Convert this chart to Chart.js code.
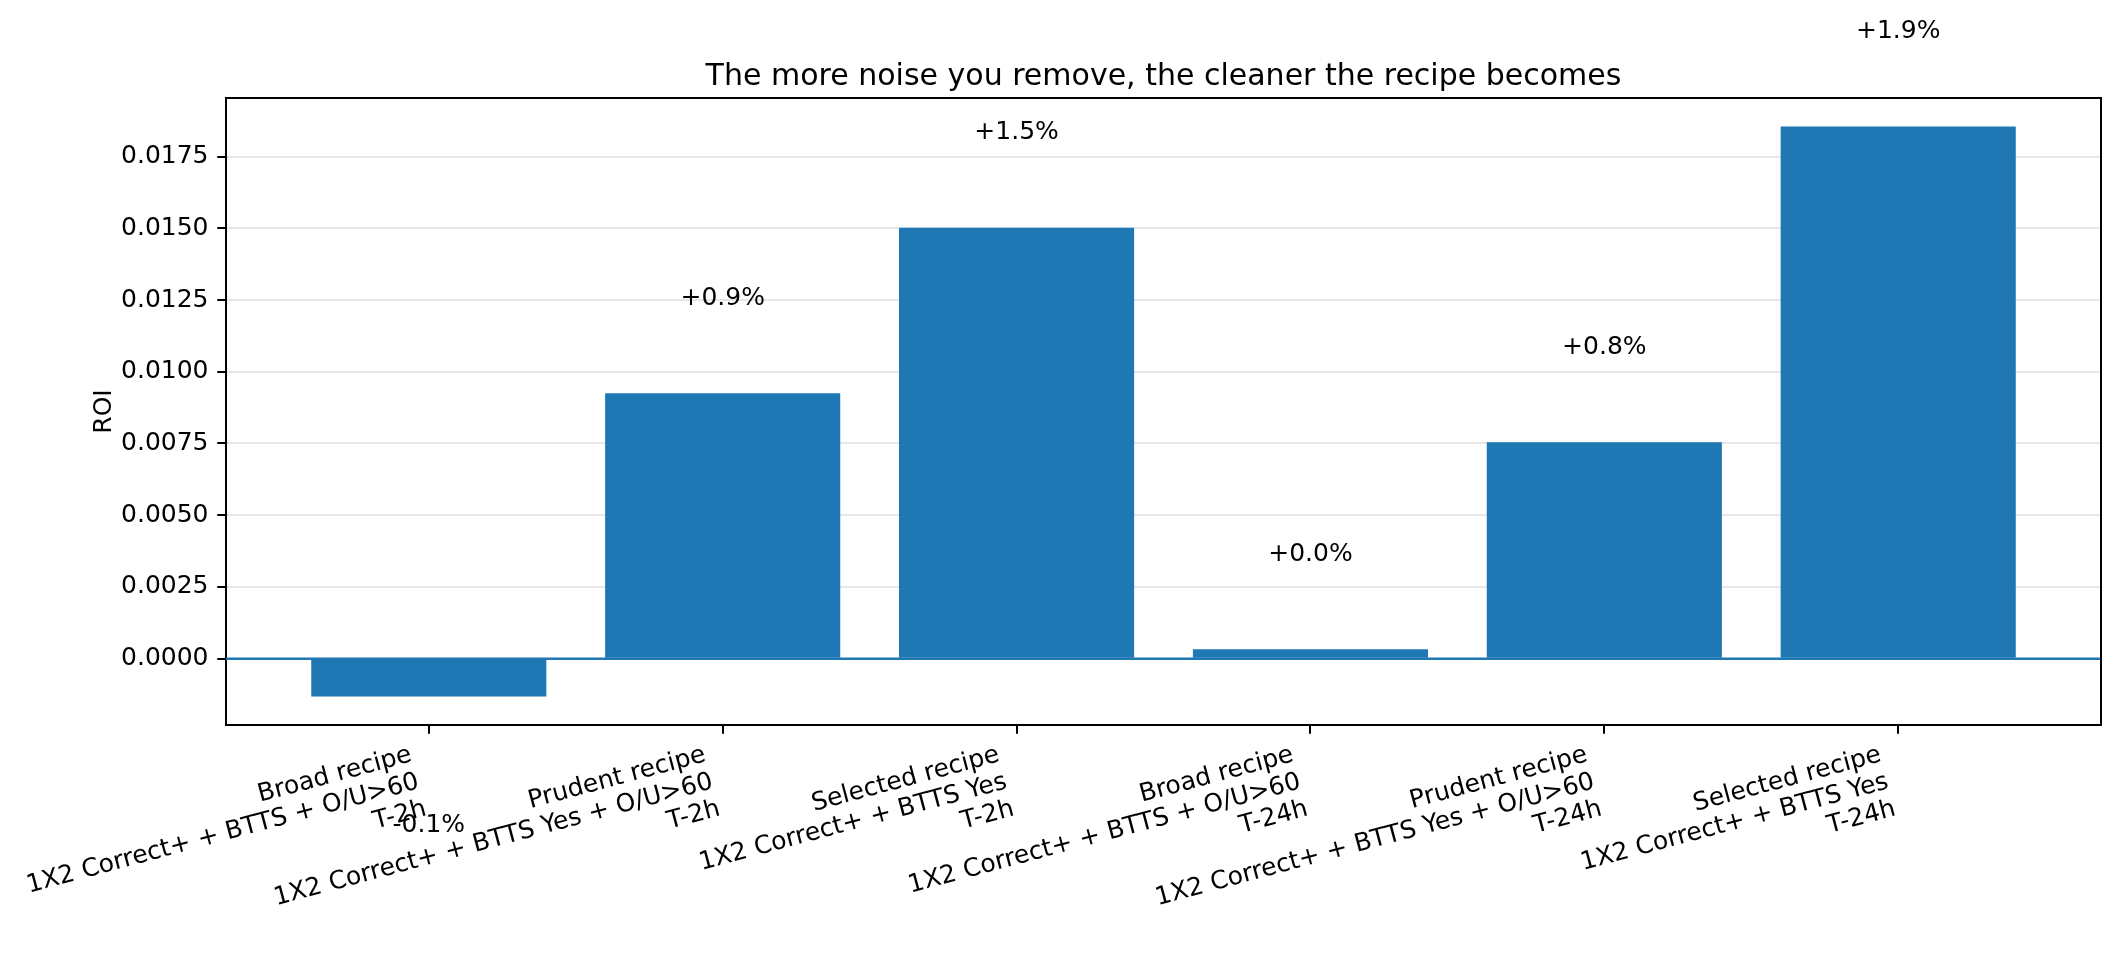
<!DOCTYPE html>
<html>
<head>
<meta charset="utf-8">
<title>ROI por receta</title>
<script src="https://cdn.jsdelivr.net/npm/chart.js@4.4.1/dist/chart.umd.min.js"></script>
<style>
  html, body { margin: 0; padding: 0; background: #ffffff; }
  canvas { display: block; }
</style>
</head>
<body>
<canvas id="graficoRoi" width="2119" height="954"></canvas>
<script>
// datos
const recetas = ['Broad recipe', 'Prudent recipe', 'Selected recipe', 'Broad recipe', 'Prudent recipe', 'Selected recipe']
const reglas = ['1X2 Correct+ + BTTS + O/U>60', '1X2 Correct+ + BTTS Yes + O/U>60', '1X2 Correct+ + BTTS Yes',
                '1X2 Correct+ + BTTS + O/U>60', '1X2 Correct+ + BTTS Yes + O/U>60', '1X2 Correct+ + BTTS Yes']
const ventanas = ['T-2h', 'T-2h', 'T-2h', 'T-24h', 'T-24h', 'T-24h']
const valoresRoi = [-0.00132, 0.00925, 0.01502, 0.00033, 0.00754, 0.01855]
const ticksRoi = [0, 0.0025, 0.005, 0.0075, 0.01, 0.0125, 0.015, 0.0175]

document.addEventListener('DOMContentLoaded', () => {

    Chart.defaults.font.family = '"DejaVu Sans", sans-serif'
    Chart.defaults.color = '#000000'

    let azul = '#1f77b4'
    let pt = 2.5   // px por punto
    let tamLetra = 10 * pt

    // limites como matplotlib (margen 5%)
    let anchoBarra = 0.8
    let xMin = -anchoBarra / 2 - 0.05 * (valoresRoi.length - 1 + anchoBarra)
    let xMax = valoresRoi.length - 1 + anchoBarra / 2 + 0.05 * (valoresRoi.length - 1 + anchoBarra)
    let bajo = Math.min(0, ...valoresRoi)
    let alto = Math.max(0, ...valoresRoi)
    let yMin = bajo - 0.05 * (alto - bajo)
    let yMax = alto + 0.05 * (alto - bajo)

    let textoRoi = valoresRoi.map(v => (v >= 0 ? '+' : '') + (v * 100).toFixed(1) + '%')

    // marco superior y derecho
    let marco = {
        id: 'marco',
        afterDatasetsDraw(chart) {
            let {ctx, chartArea} = chart
            ctx.save()
            ctx.strokeStyle = '#000000'
            ctx.lineWidth = 0.8 * pt
            ctx.beginPath()
            ctx.moveTo(chartArea.left, chartArea.top)
            ctx.lineTo(chartArea.right, chartArea.top)
            ctx.lineTo(chartArea.right, chartArea.bottom)
            ctx.stroke()
            ctx.restore()
        }
    }

    // etiquetas del eje x (3 lineas, giradas 15 grados, alineadas a la derecha)
    let etiquetasEje = {
        id: 'etiquetasEje',
        afterDraw(chart) {
            let ctx = chart.ctx
            let ejeX = chart.scales.x
            let ang = 15 * Math.PI / 180
            let asc = 0.76 * tamLetra
            let desc = 0.208 * tamLetra
            let salto = desc + asc * 1.2
            ctx.save()
            ctx.font = tamLetra + 'px "DejaVu Sans"'
            ctx.fillStyle = '#000000'
            ctx.textAlign = 'right'
            ctx.textBaseline = 'alphabetic'
            recetas.forEach((r, i) => {
                let lineas = [r, reglas[i], ventanas[i]]
                let altoBloque = asc + (lineas.length - 1) * salto + desc
                let px = ejeX.getPixelForValue(i) - altoBloque * Math.sin(ang)
                let py = chart.chartArea.bottom + 3.5 * pt + 3.5 * pt
                ctx.save()
                ctx.translate(px, py)
                ctx.rotate(-ang)
                lineas.forEach((l, k) => ctx.fillText(l, 0, asc + k * salto))
                ctx.restore()
            })
            ctx.restore()
        }
    }

    // valores encima / debajo de cada barra
    let etiquetasValor = {
        id: 'etiquetasValor',
        afterDraw(chart) {
            let ctx = chart.ctx
            let ejeX = chart.scales.x
            let ejeY = chart.scales.y
            ctx.save()
            ctx.font = tamLetra + 'px "DejaVu Sans"'
            ctx.fillStyle = '#000000'
            ctx.textAlign = 'center'
            ctx.textBaseline = 'alphabetic'
            valoresRoi.forEach((v, i) => {
                let x = ejeX.getPixelForValue(i)
                if (v >= 0) {
                    ctx.fillText(textoRoi[i], x, ejeY.getPixelForValue(v + 0.0029) - 0.208 * tamLetra)
                } else {
                    ctx.fillText(textoRoi[i], x, ejeY.getPixelForValue(v - 0.0041) + 0.7 * tamLetra)
                }
            })
            ctx.restore()
        }
    }

    let graficoRoi = new Chart(document.getElementById('graficoRoi'), {
        type: 'bar',
        data: {
            datasets: [
                {
                    type: 'line',
                    data: [{x: xMin, y: 0}, {x: xMax, y: 0}],
                    borderColor: azul,
                    borderWidth: 1 * pt,
                    pointRadius: 0,
                    order: 1
                },
                {
                    data: valoresRoi.map((v, i) => ({x: i, y: v})),
                    backgroundColor: azul,
                    borderWidth: 0,
                    barPercentage: anchoBarra,
                    categoryPercentage: 1.0,
                    order: 2
                }
            ]
        },
        options: {
            responsive: false,
            devicePixelRatio: 1,
            animation: false,
            layout: { padding: { left: 0, right: 18, top: 0, bottom: 0 } },
            plugins: {
                legend: { display: false },
                tooltip: { enabled: false },
                title: {
                    display: true,
                    fullSize: false,
                    text: 'The more noise you remove, the cleaner the recipe becomes',
                    color: '#000000',
                    font: { size: 12 * pt, weight: 'normal' },
                    padding: { top: 59, bottom: 3 }
                }
            },
            scales: {
                x: {
                    type: 'linear',
                    min: xMin,
                    max: xMax,
                    offset: false,
                    afterBuildTicks: eje => { eje.ticks = recetas.map((r, i) => ({value: i})) },
                    afterFit: eje => { eje.height = 229 },
                    ticks: { display: false },
                    grid: {
                        offset: false,
                        drawOnChartArea: false,
                        drawTicks: true,
                        tickLength: 3.5 * pt,
                        tickColor: '#000000',
                        tickWidth: 0.8 * pt,
                        lineWidth: 0.8 * pt
                    },
                    border: { color: '#000000', width: 0.8 * pt }
                },
                y: {
                    min: yMin,
                    max: yMax,
                    bounds: 'data',
                    afterBuildTicks: eje => { eje.ticks = ticksRoi.map(t => ({value: t})) },
                    afterFit: eje => { eje.width = 226 },
                    ticks: {
                        font: { size: tamLetra },
                        color: '#000000',
                        padding: 3.5 * pt,
                        callback: v => v.toFixed(4)
                    },
                    grid: {
                        color: '#e7e7e7',
                        lineWidth: 0.8 * pt,
                        tickLength: 3.5 * pt,
                        tickColor: '#000000',
                        tickWidth: 0.8 * pt
                    },
                    border: { color: '#000000', width: 0.8 * pt },
                    title: {
                        display: true,
                        text: 'ROI',
                        color: '#000000',
                        font: { size: tamLetra },
                        padding: { top: 89, bottom: 0 }
                    }
                }
            }
        },
        plugins: [marco, etiquetasEje, etiquetasValor]
    })
})
</script>
</body>
</html>
